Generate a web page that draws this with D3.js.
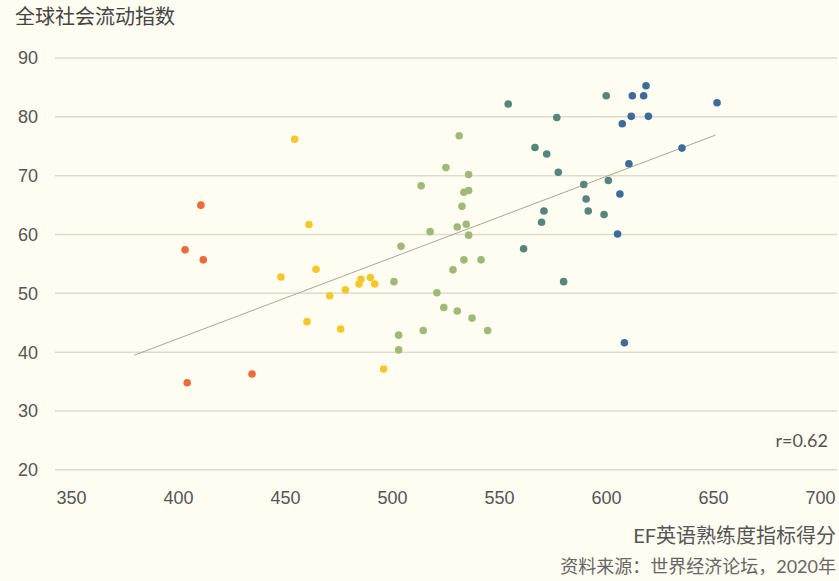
<!DOCTYPE html>
<html>
<head>
<meta charset="utf-8">
<script src="https://cdn.jsdelivr.net/npm/d3@7"></script>
<style>
  body { margin: 0; background: #fffcf1; }
  svg { display: block; font-family: "Lato", "Noto Sans CJK SC", sans-serif; }
</style>
</head>
<body>
<div id="chart"></div>
<script>
// data
var orangeX = [410.7, 403.3, 411.8, 434.6, 404.3];
var orangeY = [64.9, 57.3, 55.6, 36.2, 34.7];

var yellowX = [454.5, 461.2, 464.5, 448.1, 478.2, 470.9, 460.3, 476.0, 496.1, 484.6, 485.5, 489.9, 491.9];
var yellowY = [76.1, 61.6, 54.0, 52.7, 50.5, 49.5, 45.1, 43.85, 37.05, 51.5, 52.3, 52.6, 51.5];

var greenX = [531.4, 525.2, 535.8, 513.6, 533.6, 535.8, 532.7, 517.8, 530.5, 534.7, 535.8, 504.2, 533.6, 541.6, 528.5,
              500.9, 521.0, 524.2, 530.5, 537.4, 514.6, 544.7, 503.1, 503.1];
var greenY = [76.7, 71.3, 70.1, 68.2, 67.1, 67.4, 64.7, 60.4, 61.2, 61.65, 59.8, 57.9, 55.6, 55.6, 53.9,
              51.9, 50.0, 47.5, 46.9, 45.7, 43.6, 43.6, 42.8, 40.3];

var tealX = [554.3, 600.1, 577.0, 566.8, 572.3, 577.7, 589.6, 601.1, 590.7, 571.0, 591.7, 599.1, 569.9, 561.5, 580.2];
var tealY = [82.1, 83.5, 79.8, 74.7, 73.6, 70.5, 68.4, 69.1, 65.95, 63.9, 63.9, 63.3, 62.0, 57.5, 51.9];

var blueX = [612.3, 617.6, 618.7, 651.9, 611.8, 619.8, 607.6, 635.5, 610.7, 606.5, 605.4, 608.6];
var blueY = [83.5, 83.5, 85.2, 82.3, 80.0, 80.0, 78.75, 74.6, 71.95, 66.8, 60.0, 41.5];

var trendX = [379.6, 651.1];
var trendY = [39.4, 76.8];

var xTicks = [350, 400, 450, 500, 550, 600, 650, 700];
var yTicks = [20, 30, 40, 50, 60, 70, 80, 90];

var groups = [
  { xs: orangeX, ys: orangeY, color: "#ec6b3a" },
  { xs: yellowX, ys: yellowY, color: "#f4c829" },
  { xs: greenX, ys: greenY, color: "#9dbb76" },
  { xs: tealX, ys: tealY, color: "#56857b" },
  { xs: blueX, ys: blueY, color: "#3c6c9c" }
];

var width = 839, height = 581;

var svg = d3.select("#chart").append("svg")
    .attr("width", width)
    .attr("height", height);

svg.append("rect").attr("width", width).attr("height", height).attr("fill", "#fffcf1");

var x = d3.scaleLinear().domain([350, 700]).range([71, 820]);
var y = d3.scaleLinear().domain([20, 90]).range([469.3, 57.5]);

// gridlines + y labels
var yAxis = d3.axisLeft(y).tickValues(yTicks).tickSize(-(837 - 55)).tickPadding(17);
var gy = svg.append("g").attr("transform", "translate(55,0)").call(yAxis);
gy.select(".domain").remove();
gy.selectAll(".tick line").attr("stroke", "#dedad0").attr("stroke-width", 1.5);
gy.selectAll(".tick text").attr("fill", "#555").style("font-size", "18px").attr("dy", "0.36em");

// x labels
var xAxis = d3.axisBottom(x).tickValues(xTicks).tickSize(0).tickPadding(0);
var gx = svg.append("g").attr("transform", "translate(0,491)").call(xAxis);
gx.select(".domain").remove();
gx.selectAll(".tick text").attr("fill", "#555").style("font-size", "18px").attr("dy", "0.72em");

// trend line
svg.append("line")
    .attr("x1", x(trendX[0])).attr("y1", y(trendY[0]))
    .attr("x2", x(trendX[1])).attr("y2", y(trendY[1]))
    .attr("stroke", "#aaa699").attr("stroke-width", 1);

// points
groups.forEach(function(g) {
  svg.append("g").selectAll("circle")
      .data(g.xs.map(function(v, i) { return [v, g.ys[i]]; }))
      .enter().append("circle")
      .attr("cx", function(d) { return x(d[0]); })
      .attr("cy", function(d) { return y(d[1]); })
      .attr("r", 3.8)
      .attr("fill", g.color);
});

// texts
svg.append("text").attr("x", 15).attr("y", 24)
    .attr("fill", "#444").style("font-size", "20px")
    .text("全球社会流动指数");

svg.append("text").attr("x", 828).attr("y", 447).attr("text-anchor", "end")
    .attr("fill", "#555").style("font-size", "18px")
    .text("r=0.62");

svg.append("text").attr("x", 836).attr("y", 543).attr("text-anchor", "end")
    .attr("fill", "#555").style("font-size", "20px")
    .text("EF英语熟练度指标得分");

svg.append("text").attr("x", 836).attr("y", 573).attr("text-anchor", "end")
    .attr("fill", "#666").style("font-size", "18px")
    .text("资料来源：世界经济论坛，2020年");
</script>
</body>
</html>
